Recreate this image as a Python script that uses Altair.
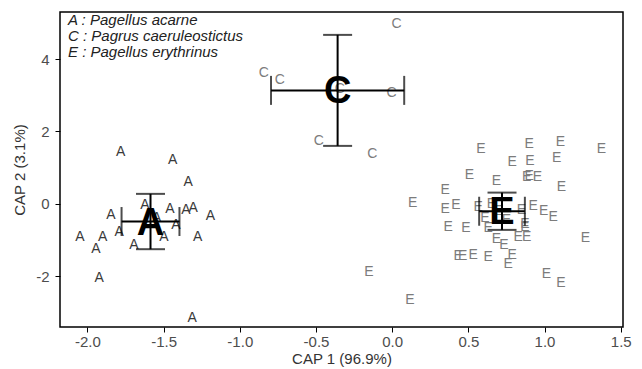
import altair as alt
import pandas as pd

# ---- data ----
a_x = [-1.782, -1.441, -1.339, -1.623, -1.846, -1.459, -1.354, -1.306, -1.192, -1.546,
       -1.419, -1.791, -1.498, -1.277, -2.049, -1.900, -1.944, -1.695, -1.923, -1.312]
a_y = [1.445, 1.215, 0.616, -0.028, -0.304, -0.146, -0.166, -0.119, -0.331, -0.387,
       -0.580, -0.765, -0.903, -0.920, -0.903, -0.920, -1.251, -1.133, -2.036, -3.141]

c_x = [0.029, -0.842, -0.737, -0.343, -0.004, -0.481, -0.131]
c_y = [4.972, 3.610, 3.425, 3.170, 3.075, 1.749, 1.381]

e_x = [0.582, 0.899, 1.105, 1.374, 0.787, 0.904, 1.079, 0.507, 0.685, 0.899, 0.954, 0.882,
       1.111, 0.348, 0.134, 0.348, 0.418, 0.564, 0.652, 0.849, 0.925, 0.995, 1.056, 0.608,
       0.367, 0.484, 0.630, 0.871, 0.827, 0.882, 0.685, 0.733, 1.269, 0.433, 0.462, 0.531,
       0.630, 0.787, 0.761, 1.013, 1.107, -0.153, 0.116, 0.700, 0.750, 0.871]
e_y = [1.511, 1.657, 1.721, 1.511, 1.169, 1.196, 1.262, 0.801, 0.635, 0.773, 0.738, 0.754,
       0.478, 0.387, 0.019, -0.146, -0.028, -0.075, 0.000, -0.166, -0.055, -0.185, -0.351, -0.395,
       -0.644, -0.671, -0.671, -0.627, -0.903, -0.920, -0.975, -1.133, -0.948, -1.436, -1.436, -1.409,
       -1.472, -1.409, -1.657, -1.934, -2.174, -1.870, -2.652, -0.200, -0.450, -0.552]

groups = ["A", "C", "E"]
mean_x = [-1.586, -0.358, 0.721]
mean_y = [-0.487, 3.135, -0.203]
sd_x = [0.190, 0.437, 0.150]
sd_y = [0.764, 1.533, 0.515]

legend_lines = ["A : Pagellus acarne", "C : Pagrus caeruleostictus", "E : Pagellus erythrinus"]

x_ticks = [-2.0, -1.5, -1.0, -0.5, 0.0, 0.5, 1.0, 1.5]
y_ticks = [-2, 0, 2, 4]

# ---- tables ----
pts = pd.DataFrame({
    "x": a_x + c_x + e_x,
    "y": a_y + c_y + e_y,
    "g": ["A"] * len(a_x) + ["C"] * len(c_x) + ["E"] * len(e_x),
})
means = pd.DataFrame({"g": groups, "mx": mean_x, "my": mean_y, "sx": sd_x, "sy": sd_y})
means["xlo"] = means.mx - means.sx
means["xhi"] = means.mx + means.sx
means["ylo"] = means.my - means.sy
means["yhi"] = means.my + means.sy
legend_df = pd.DataFrame({"line": legend_lines, "row": list(range(len(legend_lines)))})

FONT = "Liberation Sans"
xs = alt.Scale(domain=[-2.18, 1.515], nice=False, zero=False)
ys = alt.Scale(domain=[-3.40, 5.30], nice=False, zero=False)

X = alt.X("x:Q", scale=xs, title="CAP 1 (96.9%)",
          axis=alt.Axis(values=x_ticks,
                        labelExpr="replace(format(datum.value, '.1f'), '\u2212', '-')"))
Y = alt.Y("y:Q", scale=ys, title="CAP 2 (3.1%)",
          axis=alt.Axis(values=y_ticks,
                        labelExpr="replace(format(datum.value, 'd'), '\u2212', '-')"))

points_a = alt.Chart(pts).transform_filter("datum.g == 'A'").mark_text(
    font=FONT, fontSize=14, color="#3a3a3a").encode(x=X, y=Y, text="g:N")
points_ce = alt.Chart(pts).transform_filter("datum.g != 'A'").mark_text(
    font=FONT, fontSize=14, color="#7c7c7c").encode(x=X, y=Y, text="g:N")

base = alt.Chart(means)
hbar = base.mark_rule(color="black", strokeWidth=2).encode(
    x=alt.X("xlo:Q", scale=xs), x2="xhi:Q", y=alt.Y("my:Q", scale=ys))
vbar = base.mark_rule(color="black", strokeWidth=2).encode(
    y=alt.Y("ylo:Q", scale=ys), y2="yhi:Q", x=alt.X("mx:Q", scale=xs))
cap_l = base.mark_tick(orient="vertical", size=29, thickness=2, color="black").encode(
    x=alt.X("xlo:Q", scale=xs), y=alt.Y("my:Q", scale=ys))
cap_r = base.mark_tick(orient="vertical", size=29, thickness=2, color="black").encode(
    x=alt.X("xhi:Q", scale=xs), y=alt.Y("my:Q", scale=ys))
cap_b = base.mark_tick(orient="horizontal", size=29, thickness=2, color="black").encode(
    x=alt.X("mx:Q", scale=xs), y=alt.Y("ylo:Q", scale=ys))
cap_t = base.mark_tick(orient="horizontal", size=29, thickness=2, color="black").encode(
    x=alt.X("mx:Q", scale=xs), y=alt.Y("yhi:Q", scale=ys))
big = base.mark_text(font=FONT, fontSize=38, fontWeight="bold", color="black", dy=2).encode(
    x=alt.X("mx:Q", scale=xs), y=alt.Y("my:Q", scale=ys), text="g:N")

legend_layers = []
for i, line in enumerate(legend_lines):
    legend_layers.append(
        alt.Chart(legend_df).transform_filter("datum.row == " + str(i)).mark_text(
            font=FONT, fontSize=15, fontStyle="italic", color="#222222",
            align="left", baseline="middle").encode(
            x=alt.value(8), y=alt.value(8 + 16 * i), text="line:N")
    )

chart = alt.layer(points_a, points_ce, hbar, vbar, cap_l, cap_r, cap_b, cap_t, big,
                  *legend_layers).properties(
    width=563, height=315,
    background="white",
    autosize=alt.AutoSizeParams(type="none"),
    padding={"left": 52, "top": 4, "right": 10, "bottom": 42},
).configure_view(
    stroke="black", strokeWidth=1.5, fill="white",
).configure_axis(
    domain=False, grid=False,
    tickColor="black", tickSize=5, tickWidth=1,
    labelFont=FONT, labelFontSize=15, labelColor="#4d4d4d",
    titleFont=FONT, titleFontSize=15, titleColor="#333333", titleFontWeight="normal",
).configure_axisX(labelPadding=2, titlePadding=2).configure_axisY(
    labelPadding=6, titlePadding=8
)

chart.save("out.html", embed_options={"renderer": "svg", "actions": False})
